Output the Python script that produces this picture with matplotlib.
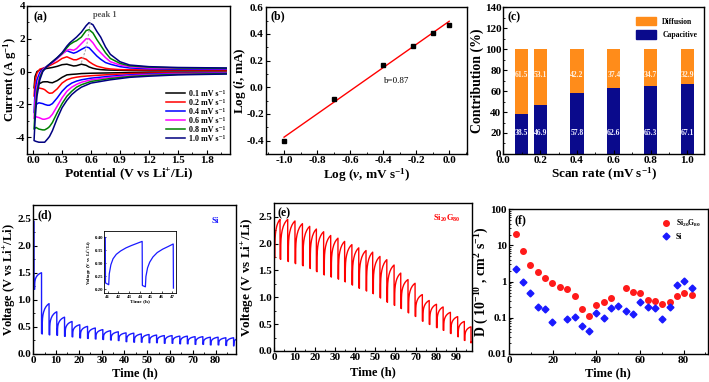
import numpy as np
import matplotlib
matplotlib.use("Agg")
import matplotlib.pyplot as plt
from matplotlib.patches import Patch
from matplotlib.ticker import MultipleLocator, FixedLocator

plt.rcParams['font.family'] = ['Liberation Serif', 'DejaVu Serif']
plt.rcParams['font.weight'] = 'bold'
plt.rcParams['axes.labelweight'] = 'bold'
plt.rcParams['axes.unicode_minus'] = False
plt.rcParams['mathtext.fontset'] = 'custom'
plt.rcParams['mathtext.rm'] = 'Liberation Serif:bold'
plt.rcParams['mathtext.it'] = 'Liberation Serif:italic:bold'
plt.rcParams['mathtext.bf'] = 'Liberation Serif:bold'
plt.rcParams['axes.linewidth'] = 1.0

TICK = 8

# ---------------- (a) CV curves ----------------
cv_labels = ["0.1", "0.2", "0.4", "0.6", "0.8", "1.0"]
cv_colors = ["black", "#ff0000", "#0000ff", "#ff00ff", "#008000", "#000080"]

# cathodic sweep (2.0 V -> 0.01 V)
cat_E = [2.0, 1.5, 1.2, 1.0, 0.8, 0.6, 0.5, 0.45, 0.4, 0.35, 0.3, 0.25, 0.2, 0.17, 0.15, 0.12, 0.1, 0.06, 0.03, 0.01]
cat_I = {
    "0.1": [-0.03, -0.04, -0.05, -0.06, -0.08, -0.1, -0.12, -0.15, -0.17, -0.2, -0.35, -0.55, -0.68, -0.66, -0.62, -0.62, -0.63, -0.75, -0.9, -1.0],
    "0.2": [-0.05, -0.07, -0.09, -0.12, -0.18, -0.25, -0.3, -0.34, -0.4, -0.5, -0.7, -1.05, -1.3, -1.32, -1.25, -1.1, -1.05, -1.0, -1.2, -1.5],
    "0.4": [-0.08, -0.11, -0.15, -0.2, -0.28, -0.4, -0.5, -0.58, -0.7, -0.9, -1.2, -1.6, -1.95, -2.05, -2.05, -2.0, -1.95, -1.9, -2.0, -2.5],
    "0.6": [-0.1, -0.14, -0.19, -0.25, -0.35, -0.5, -0.65, -0.78, -0.95, -1.2, -1.6, -2.1, -2.6, -2.8, -2.85, -2.9, -2.9, -2.8, -2.75, -2.85],
    "0.8": [-0.12, -0.17, -0.23, -0.3, -0.42, -0.6, -0.8, -0.95, -1.2, -1.5, -1.95, -2.5, -3.1, -3.35, -3.45, -3.55, -3.55, -3.5, -3.4, -3.5],
    "1.0": [-0.15, -0.2, -0.28, -0.35, -0.5, -0.7, -0.95, -1.15, -1.4, -1.75, -2.2, -2.85, -3.6, -3.95, -4.1, -4.3, -4.3, -4.3, -4.25, -4.2],
}
# anodic sweep (0.01 V -> 2.0 V)
an_E = [0.01, 0.02, 0.04, 0.07, 0.1, 0.15, 0.2, 0.25, 0.3, 0.35, 0.38, 0.42, 0.45, 0.5, 0.55, 0.58, 0.62, 0.66, 0.7, 0.75, 0.8, 0.9, 1.0, 1.2, 1.5, 2.0]
an_I = {
    "0.1": [-1.0, -0.3, 0.0, 0.1, 0.15, 0.2, 0.25, 0.32, 0.42, 0.45, 0.4, 0.34, 0.36, 0.45, 0.38, 0.28, 0.2, 0.15, 0.12, 0.1, 0.09, 0.08, 0.07, 0.06, 0.07, 0.08],
    "0.2": [-1.5, -0.6, -0.1, 0.15, 0.2, 0.3, 0.45, 0.6, 0.8, 0.9, 0.82, 0.72, 0.72, 0.85, 0.75, 0.6, 0.45, 0.33, 0.27, 0.2, 0.16, 0.12, 0.11, 0.1, 0.1, 0.1],
    "0.4": [-2.5, -1.2, -0.5, -0.05, 0.15, 0.35, 0.55, 0.8, 1.1, 1.28, 1.2, 1.12, 1.18, 1.35, 1.5, 1.45, 1.2, 0.95, 0.75, 0.55, 0.45, 0.3, 0.22, 0.17, 0.15, 0.15],
    "0.6": [-2.85, -1.8, -0.9, -0.25, 0.1, 0.35, 0.55, 0.8, 1.05, 1.3, 1.35, 1.3, 1.4, 1.7, 2.0, 2.0, 1.75, 1.4, 1.15, 0.85, 0.6, 0.4, 0.3, 0.22, 0.2, 0.18],
    "0.8": [-3.5, -2.4, -1.2, -0.35, 0.05, 0.35, 0.6, 0.85, 1.1, 1.45, 1.65, 1.8, 1.88, 2.1, 2.5, 2.55, 2.35, 1.95, 1.6, 1.15, 0.8, 0.5, 0.35, 0.27, 0.22, 0.2],
    "1.0": [-4.2, -3.0, -1.5, -0.5, 0.0, 0.35, 0.6, 0.85, 1.15, 1.55, 1.75, 1.95, 2.1, 2.4, 2.8, 2.98, 2.85, 2.45, 2.1, 1.5, 1.05, 0.6, 0.4, 0.3, 0.25, 0.22],
}
peak_line_E = [0.5, 0.54, 0.56, 0.575, 0.595]
peak_line_I = [0.55, 1.25, 1.75, 2.3, 3.1]

# ---------------- (b) log i vs log v ----------------
log_v = [-1.0, -0.699, -0.398, -0.222, -0.097, 0.0]
log_i = [-0.40, -0.09, 0.17, 0.31, 0.41, 0.47]

# ---------------- (c) contributions ----------------
scan_rate = [0.1, 0.2, 0.4, 0.6, 0.8, 1.0]
capacitive = [38.5, 46.9, 57.8, 62.6, 65.3, 67.1]
diffusion = [61.5, 53.1, 42.2, 37.4, 34.7, 32.9]

# ---------------- (d) GITT Si ----------------
si_t_drop = [0.3, 3.6, 6.9, 10.3, 13.7, 17.0, 20.4, 23.8, 27.2, 30.5, 33.9, 37.3, 40.7, 44.1,
             47.4, 50.8, 54.1, 57.5, 60.9, 64.3, 67.6, 71.0, 74.4, 77.7, 81.1, 84.5, 87.9]
si_v_peak = [2.45, 1.5, 0.93, 0.78, 0.68, 0.6, 0.54, 0.51, 0.48, 0.45, 0.43, 0.41, 0.39, 0.385,
             0.37, 0.36, 0.35, 0.34, 0.34, 0.33, 0.33, 0.32, 0.32, 0.31, 0.31, 0.30, 0.30]
si_v_min = [1.2, 0.38, 0.36, 0.35, 0.33, 0.32, 0.3, 0.29, 0.28, 0.27, 0.26, 0.25, 0.23, 0.22,
            0.22, 0.21, 0.21, 0.2, 0.2, 0.19, 0.19, 0.18, 0.18, 0.17, 0.17, 0.16, 0.15]
si_end = (89.0, 0.27)

# inset: zoom of 40.7-47.3 h
ins_t = [40.7, 40.78, 40.8, 41.1, 41.15, 41.3, 41.5, 41.8, 42.2, 42.7, 43.2, 43.7, 44.2, 44.22,
         44.5, 44.55, 44.7, 44.9, 45.2, 45.6, 46.1, 46.6, 47.08, 47.1]
ins_v = [0.40, 0.40, 0.225, 0.218, 0.26, 0.295, 0.318, 0.335, 0.348, 0.36, 0.369, 0.377, 0.385, 0.215,
         0.21, 0.25, 0.283, 0.305, 0.325, 0.342, 0.355, 0.365, 0.375, 0.205]

# ---------------- (e) GITT Si20G80 ----------------
sg_t_drop = [0.0, 2.8, 6.6, 10.2, 13.9, 17.5, 20.8, 24.4, 27.9, 31.5, 34.8, 38.4, 41.8, 45.4, 48.7,
             52.3, 55.7, 59.3, 62.6, 66.2, 69.7, 73.3, 76.7, 80.3, 83.6, 87.2, 90.8, 94.1, 97.4]
sg_v_peak = [1.75, 2.45, 2.45, 2.42, 2.37, 2.32, 2.27, 2.22, 2.15, 2.10, 2.04, 1.98, 1.92, 1.87, 1.84,
             1.76, 1.70, 1.60, 1.45, 1.33, 1.26, 1.05, 0.94, 0.87, 0.82, 0.72, 0.64, 0.55, 0.45]
sg_v_min = [1.75, 1.72, 1.68, 1.64, 1.6, 1.55, 1.49, 1.43, 1.39, 1.35, 1.3, 1.24, 1.18, 1.13, 1.08,
            1.0, 0.92, 0.86, 0.8, 0.72, 0.65, 0.56, 0.5, 0.44, 0.39, 0.33, 0.27, 0.2, 0.15]
sg_end = (97.6, 0.17)

# relaxation shape (fraction of interval, fraction of recovery)
shape_t = [0.003, 0.09, 0.1, 0.13, 0.19, 0.28, 0.42, 0.6, 0.8, 1.0]
shape_v = [0.0, -0.02, 0.35, 0.5, 0.62, 0.72, 0.82, 0.9, 0.96, 1.0]

# ---------------- (f) diffusion coefficients ----------------
f_t = [3.1, 6.4, 9.8, 13.2, 16.5, 19.9, 23.3, 26.6, 30.0, 33.4, 36.6, 40.0, 43.3, 46.7, 50.0,
       53.4, 56.8, 60.2, 63.6, 66.9, 70.3, 73.7, 77.0, 80.4, 83.8]
D_sig = [20.3, 6.9, 2.9, 1.9, 1.25, 0.93, 0.72, 0.63, 0.41, 0.17, 0.11, 0.22, 0.28, 0.35, np.nan,
         0.66, 0.53, 0.49, 0.32, 0.30, 0.24, 0.28, 0.40, 0.48, 0.43]
D_si = [2.27, 1.0, 0.49, 0.197, 0.178, 0.076, np.nan, 0.093, 0.105, 0.059, 0.042, 0.138, 0.098, 0.185, 0.206,
        0.153, 0.124, 0.28, 0.197, 0.185, 0.093, 0.197, 0.79, 1.07, 0.68]


def gitt_curve(t_drop, v_peak, v_min, end):
    t, v = [], []
    for k in range(len(t_drop)):
        t0 = t_drop[k]
        if k + 1 < len(t_drop):
            t1, v1 = t_drop[k + 1], v_peak[k + 1]
        else:
            t1, v1 = end
        t.append(t0)
        v.append(v_peak[k])
        for ft, fv in zip(shape_t, shape_v):
            t.append(t0 + ft * (t1 - t0))
            v.append(v_min[k] + fv * (v1 - v_min[k]))
    return t, v


def style(ax, xlab, ylab, xs, ys, xc, yc):
    ax.tick_params(which='both', direction='in', labelsize=TICK, pad=1.5)
    ax.tick_params(which='major', length=3, width=0.8)
    ax.tick_params(which='minor', length=1.5, width=0.6)
    for lab in ax.get_xticklabels() + ax.get_yticklabels():
        lab.set_fontweight('bold')
    ax.set_xlabel(xlab, fontsize=xs)
    ax.set_ylabel(ylab, fontsize=ys)
    ax.xaxis.set_label_coords(0.5, xc)
    ax.yaxis.set_label_coords(yc, 0.5)
    ax.xaxis.label.set_va('center')
    ax.yaxis.label.set_va('center')


fig = plt.figure(figsize=(7.09, 3.82), dpi=100)

# (a)
ax = fig.add_axes([0.0385, 0.5976, 0.286, 0.387])
for lab, col in zip(cv_labels, cv_colors):
    ax.plot(cat_E + an_E, cat_I[lab] + an_I[lab], color=col, lw=1.1,
            label="%s mV s\u207b\u00b9" % lab)
ax.plot(peak_line_E, peak_line_I, color='#aaaaaa', lw=0.8, ls=(0, (2, 1.5)))
ax.text(0.62, 3.35, "peak 1", fontsize=6, color='#555555', fontweight='bold')
ax.text(0.0, 3.1, "(a)", fontsize=8.5, fontweight='bold')
ax.set_xlim(-0.06, 2.04)
ax.set_ylim(-5, 4)
ax.xaxis.set_major_locator(FixedLocator([0.0, 0.3, 0.6, 0.9, 1.2, 1.5, 1.8]))
ax.xaxis.set_minor_locator(MultipleLocator(0.15))
ax.yaxis.set_major_locator(MultipleLocator(2))
ax.yaxis.set_minor_locator(MultipleLocator(1))
ax.set_xticklabels(["0.0", "0.3", "0.6", "0.9", "1.2", "1.5", "1.8"])
ax.legend(loc='lower right', fontsize=5.8, frameon=False, handlelength=2.3,
          labelspacing=0.12, bbox_to_anchor=(0.99, 0.05), borderaxespad=0, handletextpad=0.5)
style(ax, r"Potential (V vs Li$^{+}$/Li)", r"Current (A g$^{-1}$)", 9.7, 9, -0.14, -0.085)

# (b)
ax = fig.add_axes([0.375, 0.597, 0.2835, 0.384])
fit = np.polyfit(log_v, log_i, 1)
xf = np.array([log_v[0], log_v[-1]])
ax.plot(xf, np.polyval(fit, xf), color='red', lw=1.0)
ax.plot(log_v, log_i, 's', color='black', ms=3)
ax.text(-0.32, 0.03, "b=%.2f" % fit[0], fontsize=6.5, fontweight='normal', ha='center')
ax.text(-1.085, 0.51, "(b)", fontsize=8.5, fontweight='bold')
ax.set_xlim(-1.11, 0.107)
ax.set_ylim(-0.5, 0.6)
ax.xaxis.set_major_locator(MultipleLocator(0.2))
ax.xaxis.set_minor_locator(MultipleLocator(0.1))
ax.yaxis.set_major_locator(MultipleLocator(0.2))
ax.yaxis.set_minor_locator(MultipleLocator(0.1))
ax.xaxis.set_major_formatter(plt.FormatStrFormatter('%.1f'))
ax.yaxis.set_major_formatter(plt.FormatStrFormatter('%.1f'))
style(ax, r"Log ($\nu$, mV s$^{-1}$)", r"Log ($i$, mA)", 9.5, 9.5, -0.143, -0.13)

# (c)
ax = fig.add_axes([0.710, 0.597, 0.283, 0.384])
orange = '#ff8c1a'
navy = '#0a0a8c'
ax.bar(scan_rate, capacitive, width=0.072, color=navy)
ax.bar(scan_rate, diffusion, width=0.072, bottom=capacitive, color=orange)
for x, c, d in zip(scan_rate, capacitive, diffusion):
    ax.text(x, 20, "%.1f" % c, color='#f0f0ff', fontsize=5.5, ha='center', va='center')
    ax.text(x, 75, "%.1f" % d, color='#fff0e0', fontsize=5.5, ha='center', va='center')
ax.text(0.02, 128, "(c)", fontsize=8.5, fontweight='bold')
ax.legend([Patch(color=orange), Patch(color=navy)], ["Diffusion", "Capacitive"],
          loc='upper right', fontsize=5.5, frameon=False, handlelength=2.6, handleheight=1.3,
          labelspacing=0.6, bbox_to_anchor=(1.0, 0.98))
ax.set_xlim(0, 1.09)
ax.set_ylim(0, 140)
ax.xaxis.set_major_locator(MultipleLocator(0.2))
ax.xaxis.set_minor_locator(MultipleLocator(0.1))
ax.yaxis.set_major_locator(MultipleLocator(20))
ax.yaxis.set_minor_locator(MultipleLocator(10))
ax.xaxis.set_major_formatter(plt.FormatStrFormatter('%.1f'))
style(ax, r"Scan rate (mV s$^{-1}$)", "Contribution (%)", 9.5, 10, -0.143, -0.13)

# (d)
ax = fig.add_axes([0.047, 0.0733, 0.286, 0.390])
t, v = gitt_curve(si_t_drop, si_v_peak, si_v_min, si_end)
ax.plot([0.0] + t, [2.45] + v, color='#1a1aff', lw=1.0)
ax.text(2, 2.5, "(d)", fontsize=8.5, fontweight='bold')
ax.text(80, 2.42, "Si", fontsize=6.5, color='#1a1aff', fontweight='bold', ha='center')
ax.set_xlim(0, 89)
ax.set_ylim(0, 2.75)
ax.xaxis.set_major_locator(MultipleLocator(10))
ax.xaxis.set_minor_locator(MultipleLocator(5))
ax.yaxis.set_major_locator(MultipleLocator(0.5))
ax.yaxis.set_minor_locator(MultipleLocator(0.25))
ax.yaxis.set_major_formatter(plt.FormatStrFormatter('%.1f'))
style(ax, "Time (h)", r"Voltage (V vs Li$^{+}$/Li)", 9, 9, -0.128, -0.115)

# inset
ai = fig.add_axes([104.3 / 709, 1 - 293.3 / 382, 71.4 / 709, 62.3 / 382])
ai.plot(ins_t, ins_v, color='#1a1aff', lw=0.9)
ai.set_xlim(40.69, 47.31)
ai.set_ylim(0.185, 0.425)
ai.xaxis.set_major_locator(MultipleLocator(1))
ai.yaxis.set_major_locator(MultipleLocator(0.05))
ai.yaxis.set_major_formatter(plt.FormatStrFormatter('%.2f'))
ai.tick_params(direction='in', labelsize=3.5, length=1.5, width=0.5, pad=1)
for s in ai.spines.values():
    s.set_linewidth(0.6)
ai.set_xlabel("Time (h)", fontsize=3.8, labelpad=0.5)
ai.set_ylabel(r"Voltage (V vs Li$^{+}$/Li)", fontsize=3.5, labelpad=0.5)

# (e)
ax = fig.add_axes([0.387, 0.0812, 0.279, 0.3867])
t, v = gitt_curve(sg_t_drop, sg_v_peak, sg_v_min, sg_end)
ax.plot(t, v, color='#ff0000', lw=1.0)
ax.text(1.5, 2.5, "(e)", fontsize=8.5, fontweight='bold')
ax.text(85.5, 2.42, r"Si$_{20}$G$_{80}$", fontsize=6, color='#ff0000', fontweight='bold', ha='center')
ax.set_xlim(0, 98)
ax.set_ylim(0, 2.75)
ax.xaxis.set_major_locator(MultipleLocator(10))
ax.xaxis.set_minor_locator(MultipleLocator(5))
ax.yaxis.set_major_locator(MultipleLocator(0.5))
ax.yaxis.set_minor_locator(MultipleLocator(0.25))
ax.yaxis.set_major_formatter(plt.FormatStrFormatter('%.1f'))
style(ax, "Time (h)", r"Voltage (V vs Li$^{+}$/Li)", 9, 9.5, -0.147, -0.133)

# (f)
ax = fig.add_axes([0.718, 0.0733, 0.280, 0.379])
ax.plot(f_t, D_sig, 'o', color='#ff1a1a', ms=4, label=r"Si$_{20}$G$_{80}$")
ax.plot(f_t, D_si, 'D', color='#1a1aff', ms=3.5, label="Si")
ax.set_yscale('log')
ax.set_xlim(0, 91)
ax.set_ylim(0.01, 100)
ax.yaxis.set_major_locator(FixedLocator([0.01, 0.1, 1, 10, 100]))
ax.set_yticklabels(["0.01", "0.1", "1", "10", "100"])
ax.xaxis.set_major_locator(MultipleLocator(20))
ax.xaxis.set_minor_locator(MultipleLocator(10))
ax.text(2.5, 40, "(f)", fontsize=8.5, fontweight='bold')
ax.legend(loc='upper right', fontsize=5.5, frameon=False, handletextpad=0.3,
          bbox_to_anchor=(1.0, 0.99), labelspacing=0.5)
style(ax, "Time (h)", r"D ( 10$^{-10}$ , cm$^{2}$ s$^{-1}$)", 9, 10, -0.13, -0.137)

fig.savefig("out.png", dpi=100)
